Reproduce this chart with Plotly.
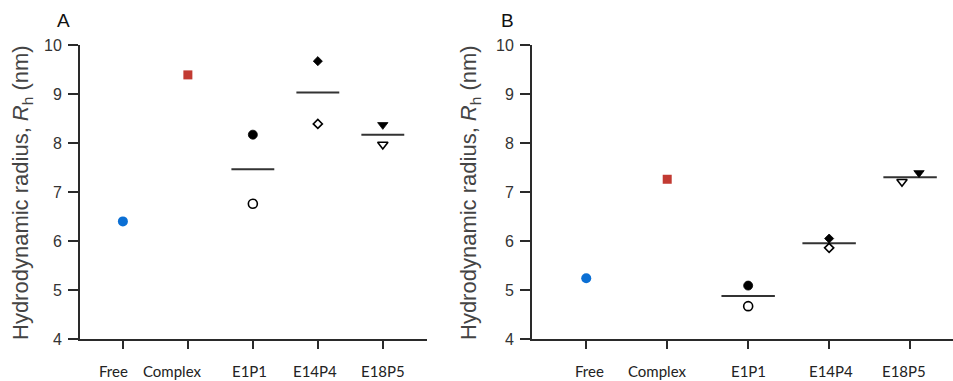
import plotly.graph_objects as go

categories = ["Free", "Complex", "E1P1", "E14P4", "E18P5"]

# Panel A values (nm)
a_free = [6.40]
a_complex = [9.39]
a_e1p1 = [8.17, 6.76]     # filled, open
a_e14p4 = [9.67, 8.39]
a_e18p5 = [8.37, 7.97]

# Panel B values (nm)
b_free = [5.24]
b_complex = [7.26]
b_e1p1 = [5.09, 4.67]
b_e14p4 = [6.05, 5.86]
b_e18p5 = [7.39, 7.21]

y_ticks = [4, 5, 6, 7, 8, 9, 10]

BLUE = "#0b6fd4"
RED = "#c23a32"
AX = "#2a2a2a"

fig = go.Figure()


def add_panel(xa, ya, free, complex_, e1, e14, e18, e18_offsets):
    xr, yr = xa, ya
    fig.add_trace(go.Scatter(x=[0], y=free, mode="markers", xaxis=xr, yaxis=yr,
                             marker=dict(symbol="circle", size=10, color=BLUE), showlegend=False))
    fig.add_trace(go.Scatter(x=[1], y=complex_, mode="markers", xaxis=xr, yaxis=yr,
                             marker=dict(symbol="square", size=9, color=RED), showlegend=False))
    groups = [
        (2, e1, "circle", [0, 0], 9),
        (3, e14, "diamond", [0, 0], 7),
        (4, e18, "triangle-down", e18_offsets, 9),
    ]
    for pos, vals, sym, offs, sz in groups:
        mean = sum(vals) / len(vals)
        fig.add_trace(go.Scatter(x=[pos - 0.33, pos + 0.33], y=[mean, mean], mode="lines",
                                 xaxis=xr, yaxis=yr, line=dict(color="#333333", width=2),
                                 showlegend=False))
        fig.add_trace(go.Scatter(x=[pos + offs[0]], y=[vals[0]], mode="markers", xaxis=xr, yaxis=yr,
                                 marker=dict(symbol=sym, size=sz, color="black",
                                             line=dict(width=0.8, color="black")),
                                 showlegend=False))
        fig.add_trace(go.Scatter(x=[pos + offs[1]], y=[vals[1]], mode="markers", xaxis=xr, yaxis=yr,
                                 marker=dict(symbol=sym + "-open", size=sz, color="black",
                                             line=dict(width=1.6, color="black")),
                                 showlegend=False))


add_panel("x", "y", a_free, a_complex, a_e1p1, a_e14p4, a_e18p5, [0, 0])
add_panel("x2", "y2", b_free, b_complex, b_e1p1, b_e14p4, b_e18p5, [0.11, -0.10])

W, H = 953, 381
y_dom = [(H - 339) / H, (H - 45) / H]

common_x = dict(showgrid=False, zeroline=False, showline=True, linecolor=AX, linewidth=2,
                ticks="outside", ticklen=8, tickwidth=2, tickcolor=AX,
                tickvals=list(range(len(categories))), showticklabels=False,
                fixedrange=True, automargin=False)
common_y = dict(showgrid=False, zeroline=False, showline=True, linecolor=AX, linewidth=2,
                ticks="outside", ticklen=10, tickwidth=1.5, tickcolor=AX,
                tickvals=y_ticks, range=[4, 10], domain=y_dom,
                tickfont=dict(family="Liberation Sans, Arial", size=16, color="#333333"),
                ticklabelstandoff=3, automargin=False)

fig.update_layout(
    width=W, height=H,
    margin=dict(l=0, r=0, t=0, b=0),
    paper_bgcolor="white", plot_bgcolor="white",
    xaxis=dict(common_x, domain=[80 / W, 427 / W], range=[-0.66, 4.68]),
    yaxis=dict(common_y, anchor="x"),
    xaxis2=dict(common_x, domain=[532 / W, 1.0], range=[-0.67, 4.53], anchor="y2"),
    yaxis2=dict(common_y, anchor="x2"),
)

# category labels (slightly offset as in the reference)
label_offsets_a = [-0.15, -0.25, -0.05, -0.05, 0.0]
label_offsets_b = [0.04, -0.12, 0.01, 0.02, -0.07]
for i, cat in enumerate(categories):
    for xr, offs in (("x", label_offsets_a), ("x2", label_offsets_b)):
        fig.add_annotation(x=i + offs[i], y=(H - 371) / H, xref=xr, yref="paper",
                           text=cat, showarrow=False, xanchor="center", yanchor="middle",
                           font=dict(family="Lato, Carlito, Calibri", size=15, color="#222222"))

title = "Hydrodynamic radius, <i>R</i><sub>h</sub> (nm)"
for xpix in (22, 470):
    fig.add_annotation(x=xpix / W, y=(H - 193) / H, xref="paper", yref="paper", text=title,
                       textangle=-90, showarrow=False, xanchor="center", yanchor="middle",
                       font=dict(family="Liberation Sans, Arial", size=22, color="#444444"))

for letter, xpix in (("A", 63), ("B", 508)):
    fig.add_annotation(x=xpix / W, y=(H - 20) / H, xref="paper", yref="paper", text=letter,
                       showarrow=False, xanchor="center", yanchor="middle",
                       font=dict(family="Liberation Sans, Arial", size=19, color="#111111"))

fig.write_html("out.html", config={"displayModeBar": False},
               post_script="document.body.style.margin='0';document.body.style.overflow='hidden';")
